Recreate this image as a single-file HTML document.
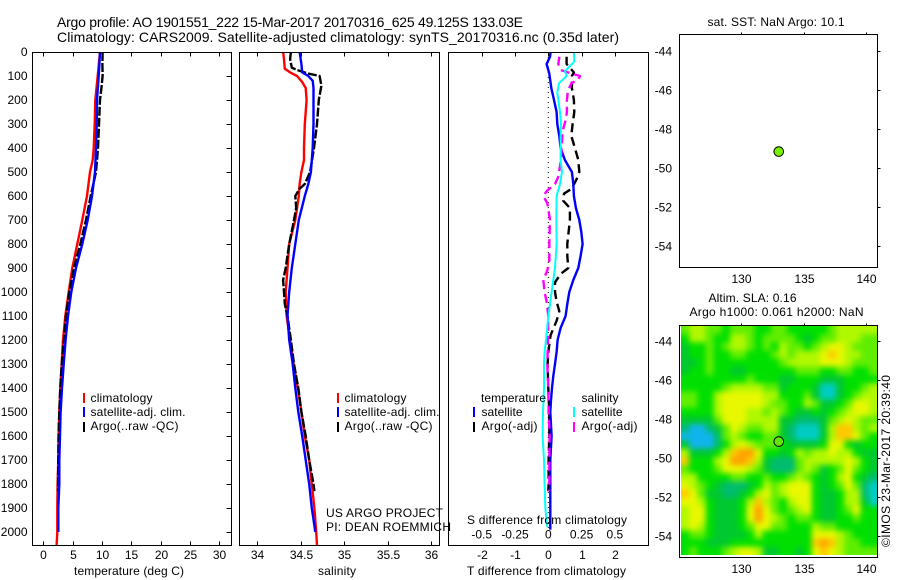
<!DOCTYPE html>
<html>
<head>
<meta charset="utf-8">
<title>Argo profile</title>
<style>
html,body{margin:0;padding:0;background:#fff;width:900px;height:580px;overflow:hidden}
svg{display:block}
text{font-family:"Liberation Sans",sans-serif;font-size:12px;fill:#000}
.t14{font-size:14px}
</style>
</head>
<body>
<svg id="fig" xmlns="http://www.w3.org/2000/svg" width="900" height="580" viewBox="0 0 900 580">
<defs>
<filter id="smooth" filterUnits="userSpaceOnUse" x="640" y="290" width="260" height="290" color-interpolation-filters="sRGB"><feGaussianBlur stdDeviation="2.8"/></filter>
<clipPath id="mapclip"><rect x="681" y="326" width="196" height="229"/></clipPath>
</defs>
<rect x="0" y="0" width="900" height="580" fill="#fff"/>
<text class="t14" x="57" y="27" textLength="466">Argo profile: AO 1901551_222 15-Mar-2017 20170316_625 49.125S 133.03E</text>
<text class="t14" x="57" y="42" textLength="562">Climatology: CARS2009. Satellite-adjusted climatology: synTS_20170316.nc (0.35d later)</text>

<g id="heat" clip-path="url(#mapclip)"><g id="heatcells" filter="url(#smooth)"></g></g>
<g id="marks"></g>
<g id="axes"></g>

<text x="74" y="575" textLength="110">temperature (deg C)</text>
<text x="318" y="575" textLength="38">salinity</text>
<text x="467" y="575" textLength="159">T difference from climatology</text>
<text x="467" y="524" textLength="160">S difference from climatology</text>

<g>
<rect x="83" y="393" width="2" height="10" fill="#f00"/>
<rect x="83" y="407" width="2" height="10" fill="#00f"/>
<rect x="83" y="422" width="2" height="10" fill="#000"/>
<text x="90.5" y="402" textLength="62">climatology</text>
<text x="90.5" y="416" textLength="95">satellite-adj. clim.</text>
<text x="90.5" y="430" textLength="88">Argo(..raw -QC)</text>
</g>
<g>
<rect x="337" y="393" width="2" height="10" fill="#f00"/>
<rect x="337" y="407" width="2" height="10" fill="#00f"/>
<rect x="337" y="422" width="2" height="10" fill="#000"/>
<text x="344.5" y="402" textLength="62">climatology</text>
<text x="344.5" y="416" textLength="95">satellite-adj. clim.</text>
<text x="344.5" y="430" textLength="88">Argo(..raw -QC)</text>
</g>
<g>
<text x="481" y="402" textLength="65">temperature</text>
<rect x="473" y="407" width="2" height="10" fill="#00f"/>
<rect x="473" y="422" width="2" height="10" fill="#000"/>
<text x="481.5" y="416" textLength="41">satellite</text>
<text x="481.5" y="430" textLength="56">Argo(-adj)</text>
<text x="581.5" y="402" textLength="37">salinity</text>
<rect x="573" y="407" width="2" height="10" fill="#0ff"/>
<rect x="573" y="422" width="2" height="10" fill="#f0f"/>
<text x="581.5" y="416" textLength="41">satellite</text>
<text x="581.5" y="430" textLength="56">Argo(-adj)</text>
</g>

<text x="326" y="517" textLength="117">US ARGO PROJECT</text>
<text x="326" y="531" textLength="125">PI: DEAN ROEMMICH</text>

<text x="707.5" y="26" textLength="137">sat. SST: NaN Argo: 10.1</text>
<text x="708.5" y="302" textLength="88">Altim. SLA: 0.16</text>
<text x="689.5" y="316" textLength="174">Argo h1000: 0.061 h2000: NaN</text>
<text transform="translate(890 547) rotate(-90)" x="0" y="0" textLength="172">©IMOS 23-Mar-2017 20:39:40</text>
</svg>

<script>
// ---- shared axis values ----
const depthTicks = [0,100,200,300,400,500,600,700,800,900,1000,1100,1200,1300,1400,1500,1600,1700,1800,1900,2000];
const tempTicks = [0,5,10,15,20,25,30];
const salTicks = [34,34.5,35,35.5,36];
const salTickLabels = ['34','34.5','35','35.5','36'];
const tdiffTicks = [-2,-1,0,1,2];
const sdiffTicks = [-0.5,-0.25,0,0.25,0.5];
const sdiffTickLabels = ['-0.5','-0.25','0','0.25','0.5'];
const lonTicks = [130,135,140];
const latTicks = [-44,-46,-48,-50,-52,-54];

// ---- temperature panel ----
const tempClimDepth = [0,100,200,300,400,450,500,600,700,800,900,1000,1100,1200,1300,1400,1500,1600,1700,1800,1900,2000,2055];
const tempClim = [9.66,9.26,8.86,8.75,8.58,8.41,7.95,7.44,6.65,5.8,4.94,4.32,3.75,3.35,3.13,2.9,2.73,2.61,2.56,2.44,2.39,2.39,2.27];
const tempSatDepth = [0,50,100,200,300,400,500,600,700,800,900,1000,1100,1200,1300,1400,1500,1600,1700,1800,1900,2000];
const tempSat = [9.66,9.55,9.43,9.15,9.09,8.98,8.8,8.3,7.56,6.65,5.57,4.77,4.2,3.8,3.47,3.18,2.95,2.84,2.73,2.73,2.56,2.56];
const tempArgoDepth = [0,50,100,150,200,300,400,500,600,700,800,900,1000,1100,1200,1300,1400,1500,1600,1700,1830];
const tempArgo = [10.1,10.06,10.1,9.89,9.66,9.49,9.32,8.98,8.07,7.27,6.3,5.23,4.43,3.86,3.52,3.13,2.9,2.73,2.61,2.56,2.5];

// ---- salinity panel ----
const salClimDepth = [0,30,70,85,100,125,150,200,300,400,450,500,550,600,700,800,900,1000,1100,1200,1300,1400,1500,1600,1700,1800,1900,2000,2055];
const salClim = [34.30,34.31,34.32,34.38,34.46,34.52,34.56,34.57,34.55,34.54,34.54,34.51,34.49,34.48,34.44,34.37,34.35,34.33,34.34,34.38,34.42,34.47,34.51,34.55,34.6,34.63,34.66,34.68,34.69];
const salSatDepth = [0,50,85,100,120,150,300,400,450,500,550,600,700,800,900,1000,1100,1200,1300,1400,1500,1600,1700,1800,1900,2000];
const salSat = [34.49,34.51,34.52,34.59,34.64,34.65,34.65,34.64,34.63,34.62,34.59,34.55,34.48,34.44,34.40,34.37,34.35,34.37,34.41,34.44,34.475,34.52,34.56,34.6,34.63,34.67];
const salArgoDepth = [0,30,65,75,90,100,140,200,300,400,500,550,570,600,650,700,800,900,950,1000,1050,1100,1200,1300,1400,1500,1600,1700,1800,1830];
const salArgo = [34.39,34.38,34.40,34.46,34.59,34.72,34.74,34.71,34.69,34.655,34.61,34.55,34.49,34.44,34.45,34.425,34.37,34.33,34.30,34.31,34.32,34.35,34.39,34.425,34.475,34.51,34.56,34.6,34.65,34.66];

// ---- difference panel ----
const diffTSatDepth = [0,20,50,90,150,200,250,300,350,400,450,500,550,600,650,700,750,800,850,900,950,1000,1050,1100,1150,1200,1250,1300,1350,1400,1450,1500,1600,1700,1800,1900,1990];
const diffTSat = [.07,.05,-.05,.03,.09,.17,.25,.27,.33,.37,.5,.71,.75,.77,.83,.93,.99,1.03,.97,.9,.75,.63,.57,.52,.37,.28,.25,.2,.15,.11,.08,.06,.1,.06,.06,.06,.06];
const diffTArgoDepth = [20,50,85,100,150,200,250,300,350,400,450,500,530,570,590,620,650,700,800,850,900,925,960,1000,1040,1080,1120,1180,1250,1300,1400,1500,1600,1700,1800,1830];
const diffTArgo = [.55,.55,.77,.71,.71,.77,.78,.73,.69,.8,.9,.93,.85,.7,.47,.45,.65,.65,.57,.57,.6,.37,.2,.2,.25,.33,.25,.07,0,-.02,0,.03,.03,.01,.01,0];
const diffSSatDepth = [0,40,80,100,130,170,250,300,350,400,450,500,550,600,700,800,900,1000,1050,1100,1200,1250,1300,1400,1500,1600,1700,1800,1900,1980];
const diffSSat = [.1925,.195,.125,.1375,.08,.0675,.0875,.095,.0925,.0925,.0925,.1025,.0875,.0625,.06,.0625,.05,.025,.0125,0,-.0175,-.0275,-.0325,-.0325,-.04,-.0425,-.0325,-.0275,-.0225,-.0075];
const diffSArgoDepth = [20,50,75,90,100,115,130,160,200,250,280,330,400,450,520,550,580,600,630,700,800,870,910,950,1000,1040,1100,1200,1300,1400,1500,1600,1700,1800,1830];
const diffSArgo = [.0825,.075,.0925,.175,.2375,.225,.175,.1475,.14,.14,.1325,.1075,.1,.095,.075,.05,-.0125,-.0375,-.0075,.0125,.0075,.0075,-.0075,-.0375,-.0275,-.0125,0,-.0025,-.0075,0,.0025,.01,.0075,.0075,.005];

// ---- map ----
const argoLon = 133.03;
const argoLat = -49.125;
// SLA level per cell (0 = lowest/cyan ... 9 = highest/orange), north to south
const slaRows = [
'566554555445'+'544444566666',
'466544665455'+'554345566655',
'344545665454'+'655456776555',
'344544554445'+'656667876655',
'334544444444'+'566667776555',
'344544334444'+'445554455445',
'444444445444'+'334443334444',
'444445666655'+'344431134456',
'554467777766'+'444531134566',
'554467777765'+'544653345776',
'444467776656'+'543343456776',
'333357776666'+'332223567655',
'200235765566'+'321113688656',
'000025654455'+'321113688754',
'300024676555'+'433334774344',
'633346899744'+'346566766433',
'844467998632'+'225666667643',
'544457776532'+'225653457543',
'664444554454'+'456543467432',
'765432223465'+'677743457521',
'875332234675'+'677743346621',
'776433346865'+'467743346631',
'677433347975'+'456743345744',
'677433347976'+'545543344544',
'676433345775'+'544465544444',
'455433334644'+'444477765444',
'444333444444'+'444489865544',
'454445677633'+'443478765555'
];
// level colours are a style ramp
const slaRamp = ['#10b4ec','#00ccc4','#00bc70','#00c830','#00e000','#60ee00','#b0f800','#e8f800','#ffc800','#ffa000'];

const NS = 'http://www.w3.org/2000/svg';
const axes = document.getElementById('axes');
const marks = document.getElementById('marks');
const heat = document.getElementById('heatcells');

function mk(parent, tag, attrs, text) {
  const e = document.createElementNS(NS, tag);
  for (const k in attrs) e.setAttribute(k, attrs[k]);
  if (text !== undefined) e.textContent = text;
  parent.appendChild(e);
  return e;
}

// axis functions
const yDepth = d => 52 + d * 0.24;
const xTemp = v => 43.3 + v * 5.87;
const xSal = v => 257 + (v - 34) * 87;
const xTdiff = v => 548.3 + v * 33.3;
const xSdiff = v => 548.3 + v * 133.2;
const xLon = v => 740.7 + (v - 130) * 12.56;
const yLatTop = v => 51.3 + (-44 - v) * 19.43;
const yLatBot = v => 341.3 + (-44 - v) * 19.43;

const panels = [
  {x0:32.5, x1:231.5, y0:52.5, y1:545.5, name:'temperature-panel'},
  {x0:239.5, x1:439.5, y0:52.5, y1:545.5, name:'salinity-panel'},
  {x0:448.5, x1:648.5, y0:52.5, y1:545.5, name:'difference-panel'},
  {x0:679.5, x1:877.5, y0:34.5, y1:267.5, name:'sst-map-panel'},
  {x0:679.5, x1:877.5, y0:325.5, y1:557.5, name:'sla-map-panel'}
];
panels.forEach(p => {
  const r = mk(axes, 'rect', {x:p.x0, y:p.y0, width:p.x1-p.x0, height:p.y1-p.y0, fill:'none', stroke:'#000', 'stroke-width':1});
  
  
});

function tick(x1,y1,x2,y2) {
  const t = mk(axes, 'line', {x1:x1, y1:y1, x2:x2, y2:y2, stroke:'#000', 'stroke-width':1, 'shape-rendering':'crispEdges'});
  
  
}
function label(x,y,anchor,str) {
  const t = mk(axes, 'text', {x:x, y:y, 'text-anchor':anchor}, str);
  
  
}

// depth axis
depthTicks.forEach(d => {
  const y = Math.round(yDepth(d)) + 0.5;
  tick(226.5, y, 231.5, y);
  label(27.5, y + 3.5, 'end', String(d));
});
// temperature axis
tempTicks.forEach(v => {
  const x = Math.round(xTemp(v)) + 0.5;
  tick(x, 52.5, x, 56.5);
  tick(x, 541.5, x, 545.5);
  label(x, 559, 'middle', String(v));
});
// salinity axis
salTicks.forEach((v, i) => {
  const x = Math.round(xSal(v)) + 0.5;
  tick(x, 52.5, x, 56.5);
  tick(x, 541.5, x, 545.5);
  label(x, 559, 'middle', salTickLabels[i]);
});
// difference axes
tdiffTicks.forEach(v => {
  const x = Math.round(xTdiff(v)) + 0.5;
  tick(x, 52.5, x, 56.5);
  label(x, 559, 'middle', String(v));
});
sdiffTicks.forEach((v, i) => {
  label(xSdiff(v), 538.5, 'middle', sdiffTickLabels[i]);
});
// map axes
[[yLatTop, 34.5, 267.5, 283], [yLatBot, 325.5, 557.5, 573]].forEach(m => {
  lonTicks.forEach(v => {
    const x = Math.round(xLon(v)) + 0.5;
    tick(x, m[1] - 2, x, m[1]);
    label(x, m[3], 'middle', String(v));
  });
  latTicks.forEach(v => {
    const y = Math.round(m[0](v)) + 0.5;
    tick(877.5, y, 880.5, y);
    label(672, y + 4, 'end', String(v));
  });
});

// dotted zero line in difference panel
const zero = mk(marks, 'line', {x1:xTdiff(0), y1:yDepth(0), x2:xTdiff(0), y2:yDepth(2000), stroke:'#000', 'stroke-width':1, 'stroke-dasharray':'1 4'});



function series(depths, vals, xf, color, dash, name, w) {
  const pts = vals.map((v, i) => xf(v).toFixed(1) + ',' + yDepth(depths[i]).toFixed(1)).join(' ');
  const attrs = {points:pts, fill:'none', stroke:color, 'stroke-width':w || 2.4, 'stroke-linejoin':'round'};
  if (dash) attrs['stroke-dasharray'] = dash;
  const l = mk(marks, 'polyline', attrs);
  
  
}

series(tempClimDepth, tempClim, xTemp, '#f00', null, 'temperature-climatology-line');
series(tempArgoDepth, tempArgo, xTemp, '#000', '9 2', 'temperature-argo-line');
series(tempSatDepth, tempSat, xTemp, '#00f', null, 'temperature-satellite-line');

series(salClimDepth, salClim, xSal, '#f00', null, 'salinity-climatology-line');
series(salArgoDepth, salArgo, xSal, '#000', '9 2', 'salinity-argo-line');
series(salSatDepth, salSat, xSal, '#00f', null, 'salinity-satellite-line');

series(diffTArgoDepth, diffTArgo, xTdiff, '#000', '9 5', 'difference-t-argo-line');
series(diffTSatDepth, diffTSat, xTdiff, '#00f', null, 'difference-t-satellite-line');
series(diffSArgoDepth, diffSArgo, xSdiff, '#f0f', '9 5', 'difference-s-argo-line');
series(diffSSatDepth, diffSSat, xSdiff, '#0ff', null, 'difference-s-satellite-line', 2);

// heatmap cells
const nRows = slaRows.length;
const nCols = slaRows[0].length;
const cellW = 196 / nCols;
const cellH = 229 / nRows;
slaRows.forEach((row, r) => {
  for (let c = 0; c < nCols; c++) {
    const pad = 14;
    const x = 681 + c * cellW - (c === 0 ? pad : 0);
    const y = 326 + r * cellH - (r === 0 ? pad : 0);
    const w = cellW + (c === 0 || c === nCols - 1 ? pad : 0) + 0.3;
    const h = cellH + (r === 0 || r === nRows - 1 ? pad : 0) + 0.3;
    const cell = mk(heat, 'rect', {x:x.toFixed(2), y:y.toFixed(2), width:w.toFixed(2), height:h.toFixed(2), fill:slaRamp[+row[c]]});
    
    
  }
});

// float position markers
const m1 = mk(marks, 'circle', {cx:xLon(argoLon), cy:yLatTop(argoLat) + 0.7, r:4.8, fill:'#78f000', stroke:'#000', 'stroke-width':1});


const m2 = mk(marks, 'circle', {cx:xLon(argoLon), cy:yLatBot(argoLat) + 0.7, r:4.8, fill:'#60e800', stroke:'#000', 'stroke-width':1});


</script>
</body>
</html>
